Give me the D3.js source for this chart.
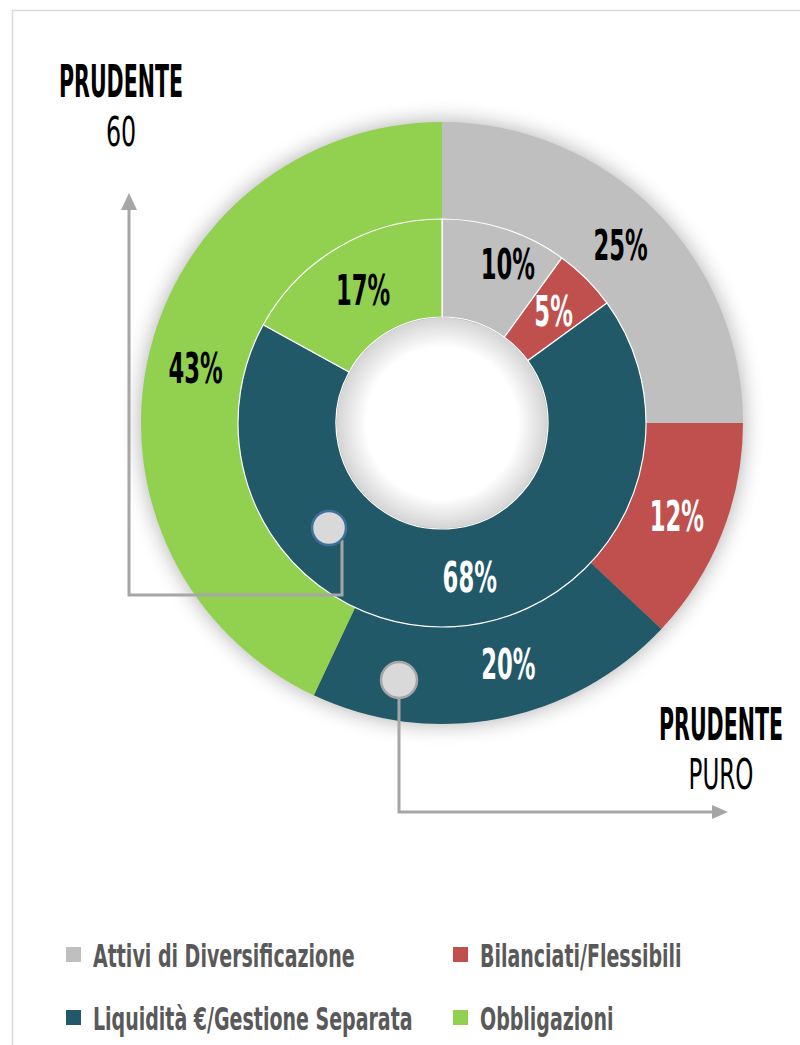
<!DOCTYPE html>
<html>
<head>
<meta charset="utf-8">
<script src="https://cdn.jsdelivr.net/npm/d3@7"></script>
<style>
  html, body { margin: 0; padding: 0; background: #fff; }
  svg { display: block; }
</style>
</head>
<body>
<div id="chart"></div>
<script>
// Asset allocation categories
const categories = [
  "Attivi di Diversificazione",
  "Bilanciati/Flessibili",
  "Liquidità €/Gestione Separata",
  "Obbligazioni"
];
// Outer ring: PRUDENTE PURO
const puroValues = [25, 12, 20, 43];
// Inner ring: PRUDENTE 60
const p60Values = [10, 5, 68, 17];
const seriesTitles = [["PRUDENTE", "PURO"], ["PRUDENTE", "60"]];

const colors = ["#bfbfbf", "#c0504d", "#215968", "#92d050"];
const labelColors = ["#000", "#fff", "#fff", "#000"];
const innerLabelColors = ["#000", "#fff", "#fff", "#000"];

const W = 800, H = 1045;
const cx = 442, cy = 423;
const rHole = 106, rMid = 204, rOuter = 301;

// small hand-placed label nudges (px) for a few slices
const outerNudge = [[0, 0], [0, 0], [19, -7], [0, 0]];
const innerNudge = [[18, -12], [2, -3], [18, -1], [0, 0]];

const svg = d3.select("#chart").append("svg")
  .attr("width", W).attr("height", H);

const defs = svg.append("defs");
const shadow = defs.append("filter").attr("id", "shadow")
  .attr("x", "-30%").attr("y", "-30%").attr("width", "160%").attr("height", "160%");
shadow.append("feGaussianBlur").attr("stdDeviation", 11);

const holeGrad = defs.append("radialGradient").attr("id", "holeGrad");
holeGrad.append("stop").attr("offset", "0%").attr("stop-color", "#fff");
holeGrad.append("stop").attr("offset", "72%").attr("stop-color", "#fff");
holeGrad.append("stop").attr("offset", "100%").attr("stop-color", "#d4d4d4");

// frame
svg.append("rect")
  .attr("x", 12.5).attr("y", 10.5).attr("width", 820).attr("height", 1100)
  .attr("fill", "none").attr("stroke", "#d9d9d9").attr("stroke-width", 1.5);

const chart = svg.append("g").attr("transform", `translate(${cx},${cy})`);

// soft drop shadow under the donut
chart.append("circle").attr("r", rOuter)
  .attr("fill", "#000").attr("opacity", 0.32)
  .attr("filter", "url(#shadow)");

const pie = d3.pie().sort(null).value(d => d);
const outerArc = d3.arc().innerRadius(rMid).outerRadius(rOuter);
const innerArc = d3.arc().innerRadius(rHole).outerRadius(rMid);

const outerData = pie(puroValues);
const innerData = pie(p60Values);

chart.append("g").selectAll("path").data(outerData).join("path")
  .attr("d", outerArc)
  .attr("fill", (d, i) => colors[i]);

chart.append("g").selectAll("path").data(innerData).join("path")
  .attr("d", innerArc)
  .attr("fill", (d, i) => colors[i])
  .attr("stroke", "#fff").attr("stroke-width", 1.2);

// hole with inner shading
chart.append("circle").attr("r", rHole - 0.6).attr("fill", "url(#holeGrad)");

// condensed text helper
const FONT = "'DejaVu Sans Condensed', 'Liberation Sans Narrow', sans-serif";
function addText(parent, x, y, str, o) {
  const g = parent.append("g").attr("transform", `translate(${x},${y})`);
  return g.append("text")
    .attr("transform", `scale(${o.sx},1)`)
    .attr("text-anchor", o.anchor || "middle")
    .attr("dy", o.dy || "0.36em")
    .attr("font-family", FONT)
    .attr("font-weight", o.weight || "bold")
    .attr("font-size", o.size)
    .attr("fill", o.fill)
    .text(str);
}

const lblOuter = chart.append("g");
outerData.forEach((d, i) => {
  const [x, y] = outerArc.centroid(d);
  addText(lblOuter, x + outerNudge[i][0], y + outerNudge[i][1], d.data + "%",
    { sx: 0.6, size: 42, fill: labelColors[i] });
});
const lblInner = chart.append("g");
innerData.forEach((d, i) => {
  const [x, y] = innerArc.centroid(d);
  addText(lblInner, x + innerNudge[i][0], y + innerNudge[i][1], d.data + "%",
    { sx: 0.6, size: 42, fill: innerLabelColors[i] });
});

// callout connectors
const callouts = svg.append("g").attr("fill", "none")
  .attr("stroke", "#a6a6a6").attr("stroke-width", 3);

// inner ring (PRUDENTE 60): marker -> up-arrow on the left
const m60 = { x: 329, y: 528 };
callouts.append("path")
  .attr("d", `M${m60.x + 13},${m60.y + 12} L${m60.x + 13},595 L129,595 L129,206`);
svg.append("path").attr("d", "M121,210 L129,193 L137,210 Z").attr("fill", "#a6a6a6");

// outer ring (PRUDENTE PURO): marker -> right-arrow at the bottom
const mPuro = { x: 399, y: 680 };
callouts.append("path")
  .attr("d", `M${mPuro.x},${mPuro.y + 18} L${mPuro.x},812 L714,812`);
svg.append("path").attr("d", "M712,805 L728,812 L712,819 Z").attr("fill", "#a6a6a6");

svg.append("circle").attr("cx", m60.x).attr("cy", m60.y).attr("r", 17)
  .attr("fill", "#d9d9d9").attr("stroke", "#41719c").attr("stroke-width", 2.5);
svg.append("circle").attr("cx", mPuro.x).attr("cy", mPuro.y).attr("r", 18)
  .attr("fill", "#d9d9d9").attr("stroke", "#a6a6a6").attr("stroke-width", 2.5);

// series titles
addText(svg, 121, 81, seriesTitles[1][0], { sx: 0.52, size: 44, fill: "#000" });
addText(svg, 121, 132, seriesTitles[1][1], { sx: 0.66, size: 40, fill: "#000", weight: "normal" });
addText(svg, 721, 724, seriesTitles[0][0], { sx: 0.52, size: 44, fill: "#000" });
addText(svg, 721, 774, seriesTitles[0][1], { sx: 0.61, size: 42, fill: "#000", weight: "normal" });

// legend
const legendPos = [[66, 955], [453, 955], [66, 1018], [453, 1018]];
const legend = svg.append("g");
categories.forEach((c, i) => {
  const [x, y] = legendPos[i];
  legend.append("rect").attr("x", x).attr("y", y - 8).attr("width", 15).attr("height", 15)
    .attr("fill", colors[i]);
  addText(legend, x + 27, y, c, { sx: 0.66, size: 32, fill: "#595959", anchor: "start" });
});
</script>
</body>
</html>
